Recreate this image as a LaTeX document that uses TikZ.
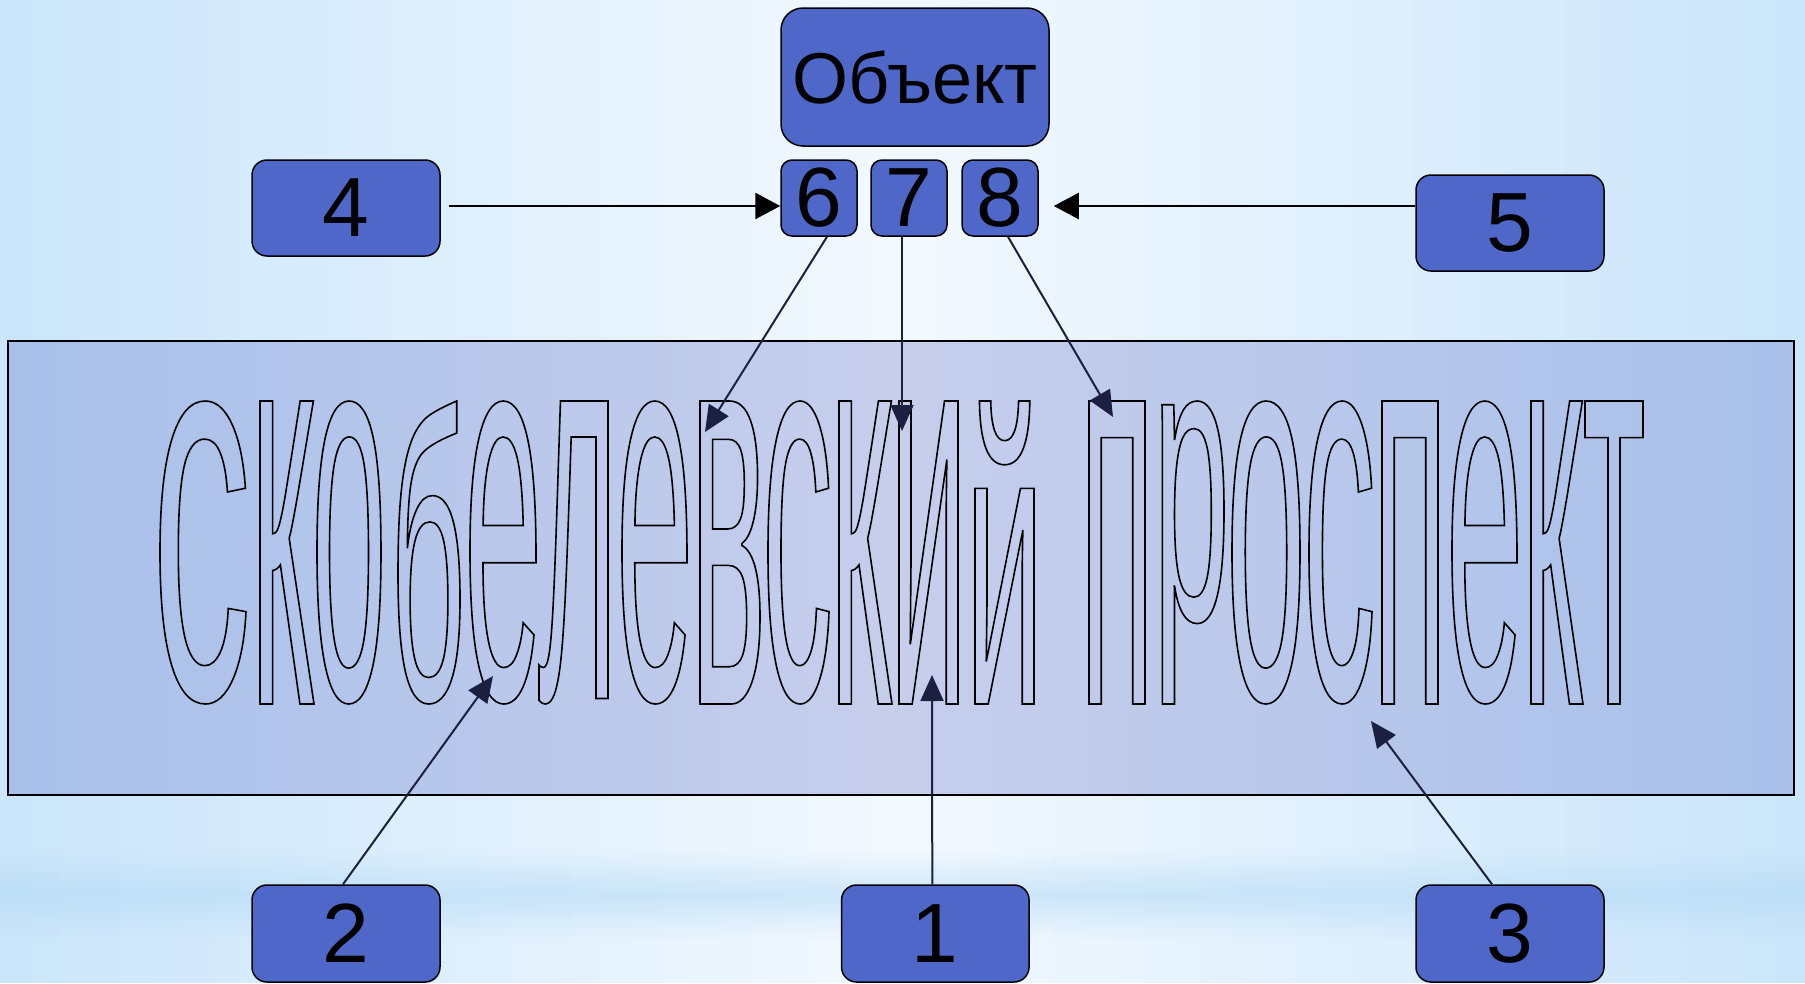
\documentclass[tikz,border=0pt]{standalone}
\usepackage{fontspec}
\setmainfont{Liberation Sans}
\usetikzlibrary{arrows.meta}
\definecolor{boxblue}{RGB}{79,103,200}
\definecolor{navy}{RGB}{27,32,64}
\definecolor{bgedge}{RGB}{202,229,250}
\definecolor{bgmid}{RGB}{243,249,255}
\definecolor{plateedge}{RGB}{168,192,234}
\definecolor{platemid}{RGB}{199,206,236}
\definecolor{bandmid}{RGB}{178,218,246}
\font\glmeas="Liberation Sans" at 100pt
\newsavebox\glbox
\newlength\glwd \newlength\glbot \newlength\gltop \newlength\gllsb \newlength\glrsb
\newcommand\outlineon{\special{pdf:literal direct 1 Tr 1.6 w 0 G}}
\newcommand\outlineoff{\special{pdf:literal direct 0 Tr}}
\newcommand\bigglyph[4]{%
  \sbox\glbox{\glmeas
    \global\gllsb=\XeTeXglyphbounds1 \XeTeXcharglyph`#2\relax
    \global\glrsb=\XeTeXglyphbounds3 \XeTeXcharglyph`#2\relax
    #2}%
  \glwd=\wd\glbox \gltop=\ht\glbox \glbot=\dp\glbox
  \pgfmathsetmacro\glh{max(\gltop+\glbot,10)}%
  \pgfmathsetmacro\glsc{303/\glh}%
  \pgfmathsetmacro\glfs{\glsc*100}%
  \pgfmathsetmacro\glink{max(\glwd-\gllsb-\glrsb,10)}%
  \pgfmathsetmacro\glex{(#4-#3)/(\glsc*\glink)}%
  \pgfmathsetmacro\glx{#3-\glsc*\glex*\gllsb}%
  \pgfmathsetmacro\gly{401+\glsc*\gltop}%
  \node[inner sep=0pt,outer sep=0pt,anchor=base west] (#1) at (\glx,\gly)
    {\edef\glset{\noexpand\font\noexpand\glf="Liberation Sans:extend=\glex" at \glfs pt}\glset
     \glf\outlineon #2\outlineoff};%
}
\tikzset{
  numbox/.style={draw=black, line width=1.5pt, fill=boxblue, rounded corners=15pt,
    inner sep=0pt, minimum width=188pt, minimum height=96pt,
    font=\fontsize{84pt}{84pt}\selectfont},
  smallbox/.style={draw=black, line width=1.5pt, fill=boxblue, rounded corners=11pt,
    inner sep=0pt, minimum width=76pt, minimum height=76pt,
    font=\fontsize{84pt}{84pt}\selectfont},
  objbox/.style={draw=black, line width=1.5pt, fill=boxblue, rounded corners=22pt,
    inner sep=0pt, minimum width=268pt, minimum height=138pt,
    font=\fontsize{72pt}{72pt}\selectfont},
  navyarrow/.style={draw=navy, line width=2pt, -{Triangle[length=26pt,width=23pt]}},
  blackarrow/.style={draw=black, line width=2.5pt, -{Triangle[length=25pt,width=26pt]}}
}
\begin{document}
\begin{tikzpicture}[x=1pt,y=-1pt]
\useasboundingbox (0,0) rectangle (1805,983);
% background: horizontal gradient built from strips
\foreach \i in {0,...,59} {
  \pgfmathsetmacro\t{100*(1-abs(\i+0.5-30)/30)}
  \fill[bgmid!\t!bgedge] (\i*30.1-0.5,0) rectangle (\i*30.1+31,983);
}
% light band near the bottom
\foreach \i in {0,...,29} {
  \pgfmathsetmacro\op{0.55*(1-abs(\i-14.5)/15)}
  \fill[bandmid, opacity=\op] (0,850+3*\i) rectangle (1805,853+3*\i);
}
% plate
\path[draw=black, line width=1.5pt, left color=plateedge, right color=plateedge, middle color=platemid]
  (8,341) rectangle (1794,795);
% big outlined text
\bigglyph{g1}{с}{160}{246}
\bigglyph{g2}{к}{260}{314}
\bigglyph{g3}{о}{317}{381}
\bigglyph{g4}{б}{398}{460}
\bigglyph{g5}{е}{470}{536}
\bigglyph{g6}{л}{539}{608}
\bigglyph{g7}{е}{622}{687}
\bigglyph{g8}{в}{700}{760}
\bigglyph{g9}{с}{768}{829}
\bigglyph{g10}{к}{839}{892}
\bigglyph{g11}{и}{899}{958}
\bigglyph{g12}{й}{975}{1034}
\bigglyph{g13}{п}{1089}{1145}
\bigglyph{g14}{р}{1162}{1224}
\bigglyph{g15}{о}{1232}{1300}
\bigglyph{g16}{с}{1309}{1372}
\bigglyph{g17}{п}{1382}{1438}
\bigglyph{g18}{е}{1452}{1517}
\bigglyph{g19}{к}{1531}{1583}
\bigglyph{g20}{т}{1585}{1643}
% boxes
\node[objbox] (obj) at (915,77) {Объект};
\node[smallbox] (n6) at (819,198) {6};
\node[smallbox] (n7) at (909,198) {7};
\node[smallbox] (n8) at (1000,198) {8};
\node[numbox] (n4) at (346,208) {4};
\node[numbox] (n5) at (1510,223) {5};
\node[numbox, minimum height=97pt] (n2) at (346,933.5) {2};
\node[numbox, minimum height=97pt, minimum width=187.5pt] (n1) at (935.3,933.5) {1};
\node[numbox, minimum height=97pt] (n3) at (1510,933.5) {3};
% arrow tips
\coordinate (tip6) at (705,432);
\coordinate (tip7) at (902,431);
\coordinate (tip8) at (1113,417);
\coordinate (tip2) at (493,676);
\coordinate (tip1) at (932,675);
\coordinate (tip3) at (1371,721);
% connectors
\draw[blackarrow] ([xshift=8pt,yshift=2pt]n4.east) -- ([yshift=-8pt]n6.west);
\draw[blackarrow, shorten >=15pt] ([yshift=17pt]n5.west) -- ([yshift=-8pt]n8.east);
\draw[navyarrow] ([xshift=8pt]n6.south) -- (tip6);
\draw[navyarrow] ([xshift=-7pt]n7.south) -- (tip7);
\draw[navyarrow] ([xshift=8pt]n8.south) -- (tip8);
\draw[navyarrow] ([xshift=-3pt]n2.north) -- (tip2);
\draw[navyarrow] ([xshift=-3pt]n1.north) -- (tip1);
\draw[navyarrow] ([xshift=-18pt]n3.north) -- (tip3);
\end{tikzpicture}
\end{document}
